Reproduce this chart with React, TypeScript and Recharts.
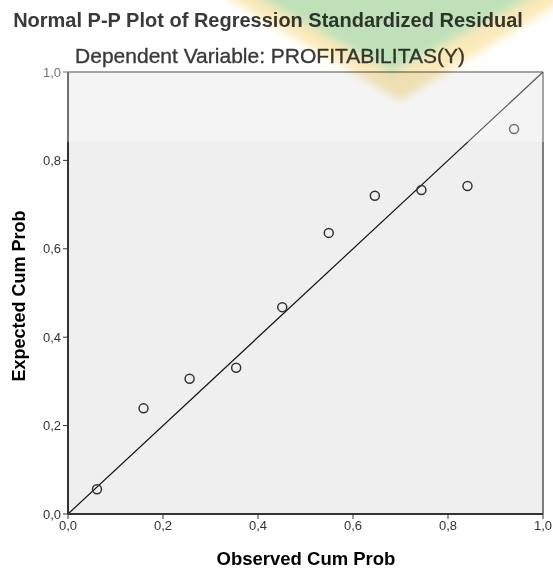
import { ScatterChart, Scatter, XAxis, YAxis, CartesianGrid, ReferenceLine } from 'recharts'

// Observed vs expected cumulative probabilities (10 cases)
const observedCumProb = [0.061, 0.159, 0.256, 0.354, 0.451, 0.549, 0.646, 0.744, 0.841, 0.939]
const expectedCumProb = [0.056, 0.239, 0.306, 0.331, 0.468, 0.636, 0.72, 0.733, 0.742, 0.871]
const axisTicks = [0, 0.2, 0.4, 0.6, 0.8, 1]
const diagonal = [
  { x: 0, y: 0 },
  { x: 1, y: 1 },
]

const points = observedCumProb.map((x, i) => ({ x, y: expectedCumProb[i] }))

const W = 553
const H = 568
const FONT = '"Liberation Sans", Arial, sans-serif'

const fmt = (v: number) => v.toFixed(1).replace('.', ',')

const OpenCircle = (props: any) => {
  const { cx, cy } = props
  if (cx == null || cy == null) return null
  return <circle cx={cx} cy={cy} r={4.5} fill="none" stroke="#333" strokeWidth={1.5} />
}

export default function App() {
  return (
    <div style={{ position: 'absolute', left: 0, top: 0, width: W, height: H, background: '#fff', fontFamily: FONT }}>
      <ScatterChart width={W} height={H} margin={{ top: 72, right: 10, left: 0, bottom: 0 }}>
        <CartesianGrid horizontal={false} vertical={false} fill="#efefef" />
        <XAxis
          type="number"
          dataKey="x"
          domain={[0, 1]}
          ticks={axisTicks}
          tickFormatter={fmt}
          height={54}
          axisLine={{ stroke: '#333', strokeWidth: 2 }}
          tickLine={{ stroke: '#333' }}
          tickSize={5}
          tick={{ fill: '#333', fontSize: 13, fontFamily: FONT }}
        />
        <YAxis
          type="number"
          dataKey="y"
          domain={[0, 1]}
          ticks={axisTicks}
          tickFormatter={fmt}
          width={68}
          axisLine={{ stroke: '#333', strokeWidth: 2 }}
          tickLine={{ stroke: '#333' }}
          tickSize={5}
          tick={{ fill: '#333', fontSize: 13, fontFamily: FONT }}
        />
        <ReferenceLine y={1} stroke="#555" strokeWidth={1.5} />
        <ReferenceLine x={1} stroke="#555" strokeWidth={1.5} />
        <ReferenceLine segment={diagonal} stroke="#111" strokeWidth={1.2} />
        <Scatter data={points} shape={OpenCircle} isAnimationActive={false} />
      </ScatterChart>

      <svg width={W} height={H} style={{ position: 'absolute', left: 0, top: 0, pointerEvents: 'none' }}>
        {/* faint logo watermark over the top of the page */}
        <defs>
          <filter id="soft" x="-20%" y="-20%" width="140%" height="140%">
            <feGaussianBlur stdDeviation="5" />
          </filter>
        </defs>
        <rect x={0} y={66} width={W} height={76} fill="#fff" opacity={0.3} />

        <text x={268} y={27} textAnchor="middle" fontSize={20} fontWeight="bold" fill="#3a3a3a" fontFamily={FONT}>
          Normal P-P Plot of Regression Standardized Residual
        </text>
        <text x={270} y={63} textAnchor="middle" fontSize={21} fill="#3a3a3a" stroke="#3a3a3a" strokeWidth={0.35} fontFamily={FONT}>
          Dependent Variable: PROFITABILITAS(Y)
        </text>
        <text x={306} y={565} textAnchor="middle" fontSize={18.5} fontWeight="bold" fill="#000" fontFamily={FONT}>
          Observed Cum Prob
        </text>
        <text
          x={25}
          y={296}
          textAnchor="middle"
          fontSize={18}
          fontWeight="bold"
          fill="#000"
          fontFamily={FONT}
          transform="rotate(-90 25 296)"
        >
          Expected Cum Prob
        </text>

        <g filter="url(#soft)" style={{ mixBlendMode: 'multiply' }}>
          <polygon points="215,-10 580,-10 400,100" fill="#f8dd93" opacity={0.65} />
          <polygon points="245,-10 545,-10 392,72" fill="#a6dcbb" opacity={0.7} />
        </g>
      </svg>
    </div>
  )
}
